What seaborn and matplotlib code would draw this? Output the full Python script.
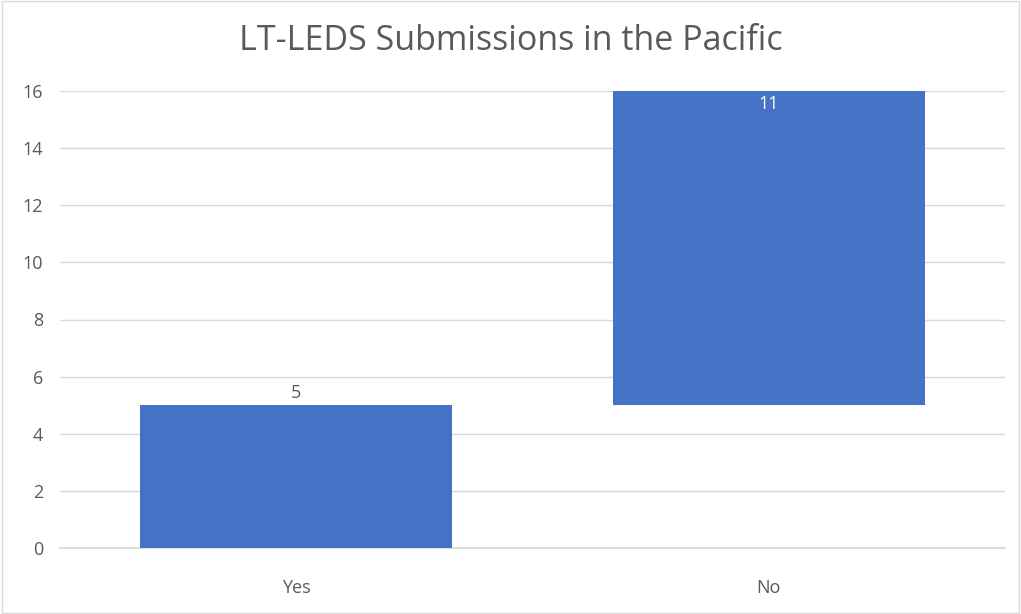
import matplotlib
matplotlib.use("Agg")
import matplotlib.pyplot as plt
import seaborn as sns
import pandas as pd
from matplotlib.patches import Rectangle

categories = ["Yes", "No"]
values = [5, 11]
bases = [0, 5]
title = "LT-LEDS Submissions in the Pacific"
yticks = [0, 2, 4, 6, 8, 10, 12, 14, 16]

sns.set_theme(style="white")
plt.rcParams['font.family'] = ['Open Sans', 'DejaVu Sans']

df = pd.DataFrame({"cat": categories, "val": values, "base": bases})

fig = plt.figure(figsize=(10.21, 6.14), dpi=100)
ax = fig.add_axes([60/1021, 1-548/614, 945/1021, 457/614])

sns.barplot(data=df, x="cat", y="val", color="#4472C4", saturation=1,
            width=0.66, ax=ax, zorder=3)
for p, b in zip(ax.patches, df["base"]):
    p.set_y(b)
    p.set_edgecolor("none")

ax.set_ylim(0, 16)
ax.set_yticks(yticks)
ax.set_xlim(-0.5, 1.5)
ax.grid(axis="y", color="#D9D9D9", linewidth=1, zorder=0)
for s in ["top", "right", "left"]:
    ax.spines[s].set_visible(False)
ax.spines["bottom"].set_color("#D9D9D9")
ax.tick_params(axis="both", length=0, labelsize=13, labelcolor="#595959")
ax.tick_params(axis="y", pad=12)
ax.tick_params(axis="x", pad=22)
ax.set_xlabel("")
ax.set_ylabel("")
fig.text(0.5, 1 - 41/614, title, fontsize=24.5, color="#595959",
         ha="center", va="center")

for i, (v, b) in enumerate(zip(df["val"], df["base"])):
    if b == 0:
        ax.text(i, b + v + 0.1, str(v), ha="center", va="bottom", fontsize=13, color="#595959")
    else:
        ax.text(i, b + v - 0.15, str(v), ha="center", va="top", fontsize=13, color="white")

fig.patches.append(Rectangle((0.002, 0.002), 0.996, 0.996, transform=fig.transFigure,
                             fill=False, edgecolor="#D9D9D9", linewidth=1))

fig.savefig("out.png", dpi=100)
